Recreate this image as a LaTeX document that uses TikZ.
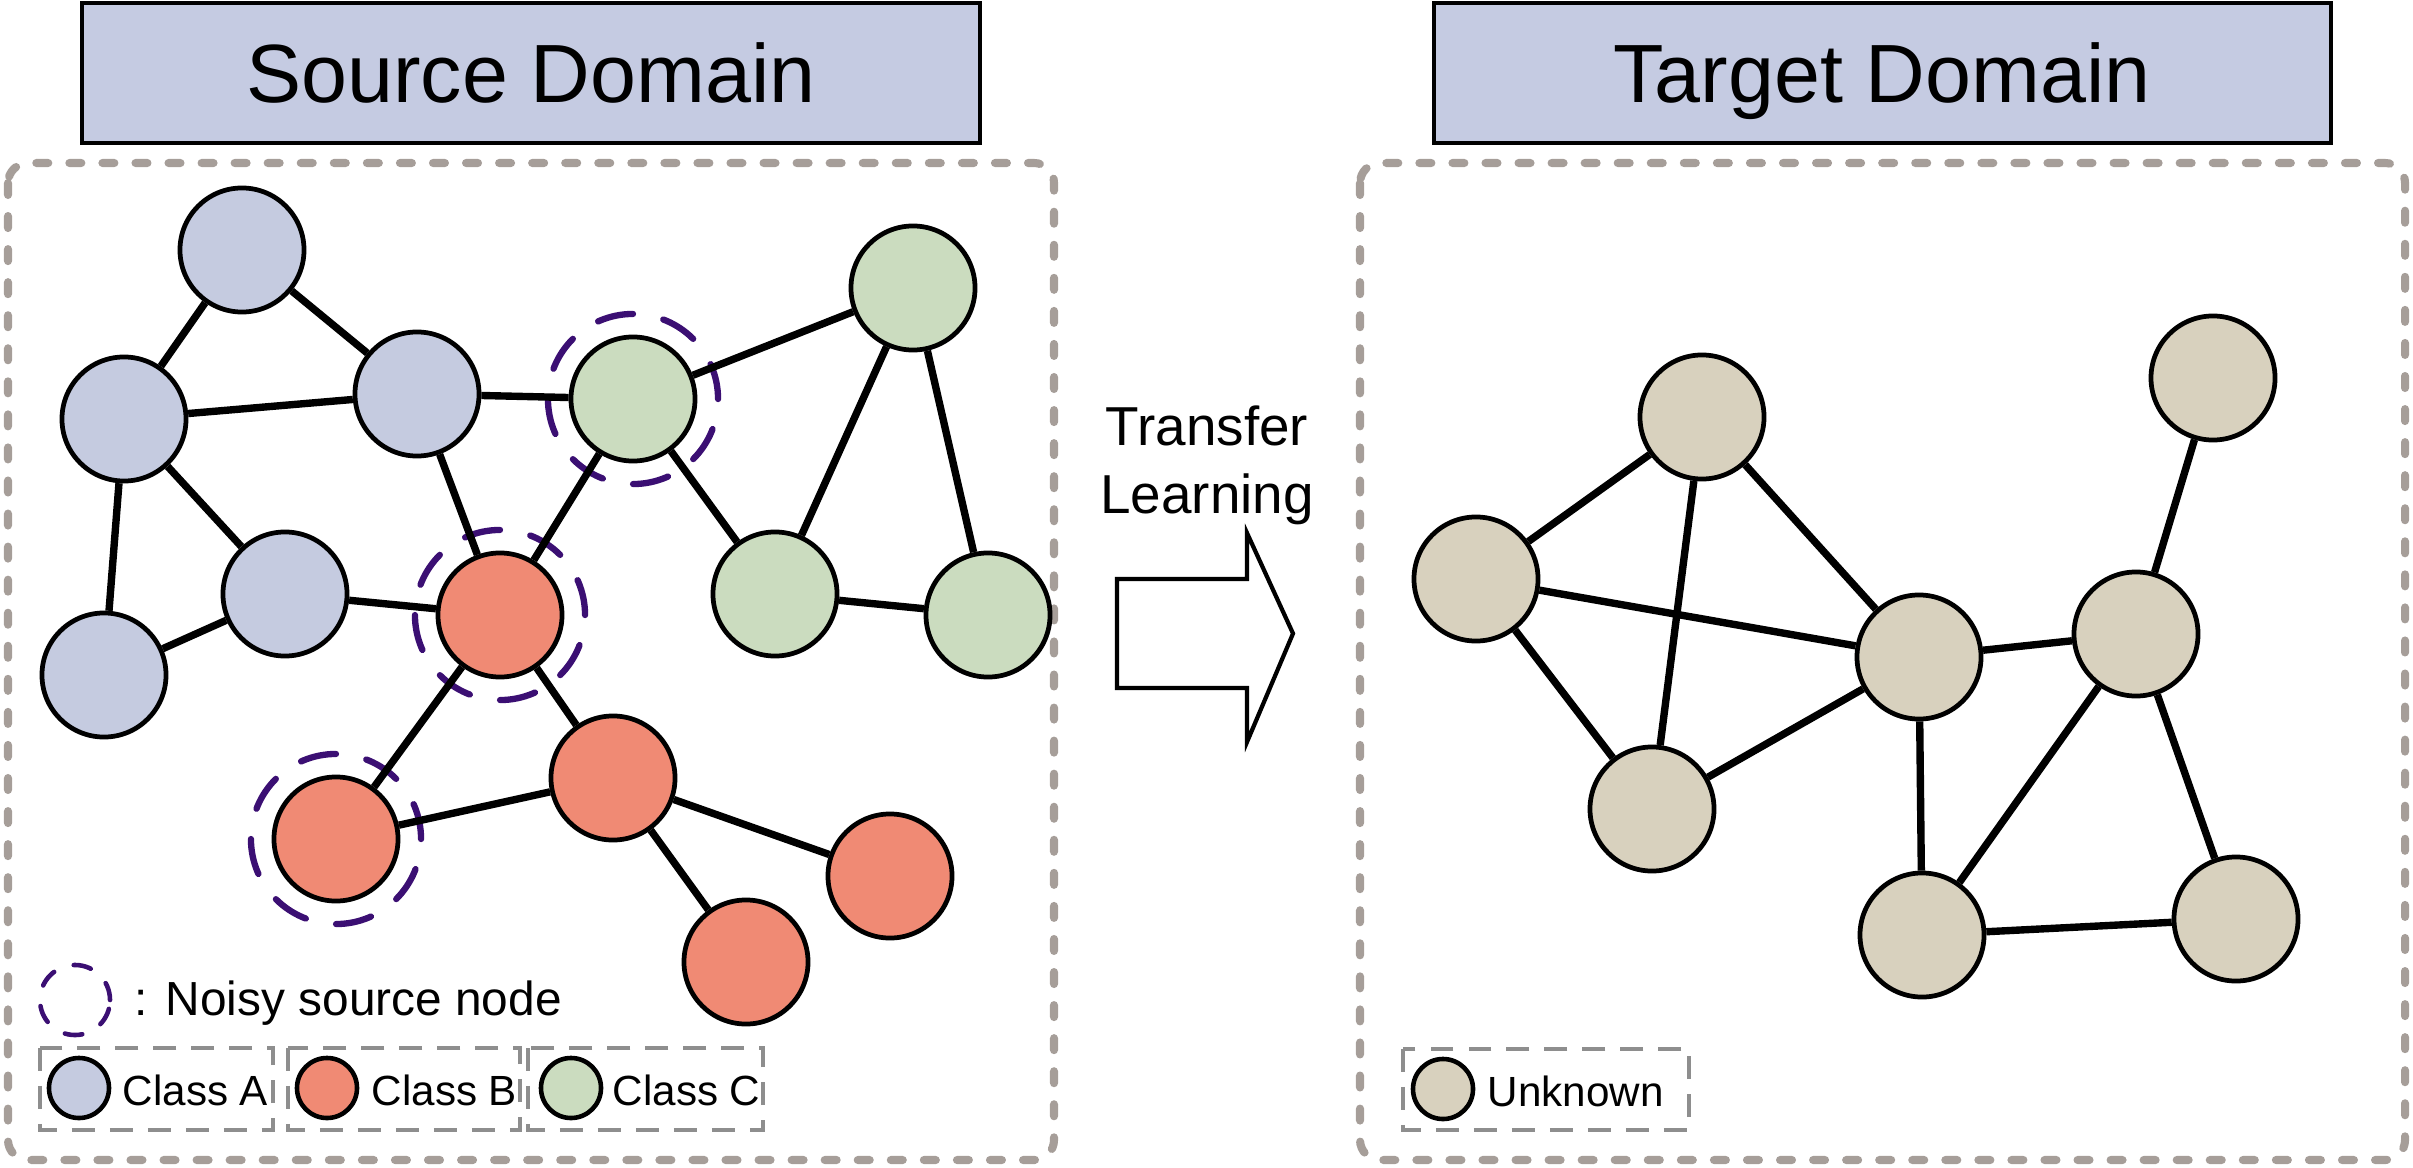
\documentclass[tikz,border=0pt]{standalone}
\usepackage{fontspec}
\setmainfont{Liberation Sans}
\definecolor{clsA}{HTML}{C5CBE0}
\definecolor{clsB}{HTML}{F08A74}
\definecolor{clsC}{HTML}{CBDCBF}
\definecolor{unk}{HTML}{D8D1BE}
\definecolor{noisycol}{HTML}{3B0F73}
\definecolor{hdr}{HTML}{C5CBE2}
\definecolor{boxgray}{HTML}{A69E99}
\definecolor{leggray}{HTML}{8E8E8E}
\tikzset{
  gnode/.style={circle, draw=black, line width=1.35pt, minimum size=1.24cm, inner sep=0pt},
  nA/.style={gnode, fill=clsA},
  nB/.style={gnode, fill=clsB},
  nC/.style={gnode, fill=clsC},
  nU/.style={gnode, fill=unk},
  lnode/.style={circle, draw=black, line width=1.3pt, minimum size=0.6cm, inner sep=0pt},
  edge/.style={line width=2.1pt},
  noisyring/.style={circle, draw=noisycol, line width=1.8pt, dash pattern=on 10.2pt off 8.8pt, line cap=round, minimum size=1.7cm, inner sep=0pt},
  noisylegend/.style={circle, draw=noisycol, line width=1.3pt, dash pattern=on 5pt off 6pt, line cap=round, minimum size=0.7cm, inner sep=0pt},
  bigbox/.style={draw=boxgray, line width=2.3pt, line cap=round, dash pattern=on 3.4pt off 6pt, rounded corners=0.2cm},
  legbox/.style={draw=leggray, line width=1pt, dash pattern=on 6.5pt off 4.3pt},
  header/.style={draw=black, line width=1.3pt, fill=hdr},
  titletext/.style={anchor=base, inner sep=0pt, font=\fontsize{23.5pt}{28pt}\selectfont},
  tltext/.style={anchor=base, inner sep=0pt, font=\fontsize{15.6pt}{19pt}\selectfont},
  noisytext/.style={anchor=base west, inner sep=0pt, font=\fontsize{13.6pt}{16pt}\selectfont},
  classtext/.style={anchor=base west, inner sep=0pt, font=\fontsize{12pt}{14pt}\selectfont},
}
\begin{document}
\begin{tikzpicture}[x=0.01cm, y=-0.01cm]
\useasboundingbox (0,0) rectangle (2413,1167);

% headers
\draw[header] (82,3) rectangle (980,143);
\node[titletext] (srctitle) at (531,103) {Source Domain};
\draw[header] (1434,3) rectangle (2331,143);
\node[titletext] (tgttitle) at (1882,103) {Target Domain};

% domain boxes
\draw[bigbox] (8,163) rectangle (1054,1160);
\draw[bigbox] (1360,163) rectangle (2405,1160);

% noisy rings
\node[noisyring] (rC1) at (633,399) {};
\node[noisyring] (rB1) at (500,615) {};
\node[noisyring] (rB3) at (336,839) {};

% source nodes
\node[nA] (A1) at (242,250) {};
\node[nA] (A2) at (124,419) {};
\node[nA] (A3) at (417,394) {};
\node[nA] (A4) at (285,594) {};
\node[nA] (A5) at (104,675) {};
\node[nB] (B1) at (500,615) {};
\node[nB] (B2) at (613,778) {};
\node[nB] (B3) at (336,839) {};
\node[nB] (B4) at (890,876) {};
\node[nB] (B5) at (746,962) {};
\node[nC] (C1) at (633,399) {};
\node[nC] (C2) at (913,288) {};
\node[nC] (C3) at (775,594) {};
\node[nC] (C4) at (988,615) {};

% source edges
\draw[edge] (A1) -- (A2);
\draw[edge] (A1) -- (A3);
\draw[edge] (A2) -- (A3);
\draw[edge] (A2) -- (A4);
\draw[edge] (A2) -- (A5);
\draw[edge] (A4) -- (A5);
\draw[edge] (A3) -- (C1);
\draw[edge] (A3) -- (B1);
\draw[edge] (A4) -- (B1);
\draw[edge] (C1) -- (B1);
\draw[edge] (C1) -- (C2);
\draw[edge] (C1) -- (C3);
\draw[edge] (C2) -- (C3);
\draw[edge] (C2) -- (C4);
\draw[edge] (C3) -- (C4);
\draw[edge] (B1) -- (B3);
\draw[edge] (B1) -- (B2);
\draw[edge] (B3) -- (B2);
\draw[edge] (B2) -- (B4);
\draw[edge] (B2) -- (B5);

% source legend
\node[noisylegend] (lnoisy) at (75,1000) {};
\node[noisytext] (lnoisytext) at (134,1015) {: Noisy source node};
\draw[legbox] (40,1048) rectangle (273,1130);
\draw[legbox] (288,1048) rectangle (520,1130);
\draw[legbox] (528,1048) rectangle (763,1130);
\node[lnode, fill=clsA] (lA) at (79,1088) {};
\node[classtext] (lAt) at (122,1105) {Class A};
\node[lnode, fill=clsB] (lB) at (327,1088) {};
\node[classtext] (lBt) at (371,1105) {Class B};
\node[lnode, fill=clsC] (lC) at (571,1088) {};
\node[classtext] (lCt) at (612,1105) {Class C};

% transfer arrow
\node[tltext] (tl1) at (1207,445) {Transfer};
\node[tltext] (tl2) at (1207,513) {Learning};
\draw[line width=1.2pt, line join=miter, fill=white]
  (1117,579) -- (1247,579) -- (1247,533) -- (1293,633.5) -- (1247,742) -- (1247,688) -- (1117,688) -- cycle;

% target nodes
\node[nU] (T1) at (1476,579) {};
\node[nU] (T2) at (1702,417) {};
\node[nU] (T3) at (2213,378) {};
\node[nU] (T4) at (1652,809) {};
\node[nU] (T5) at (1919,657) {};
\node[nU] (T6) at (2136,634) {};
\node[nU] (T7) at (1922,935) {};
\node[nU] (T8) at (2236,919) {};

% target edges
\draw[edge] (T1) -- (T2);
\draw[edge] (T1) -- (T5);
\draw[edge] (T1) -- (T4);
\draw[edge] (T2) -- (T4);
\draw[edge] (T2) -- (T5);
\draw[edge] (T4) -- (T5);
\draw[edge] (T5) -- (T6);
\draw[edge] (T3) -- (T6);
\draw[edge] (T5) -- (T7);
\draw[edge] (T6) -- (T7);
\draw[edge] (T6) -- (T8);
\draw[edge] (T7) -- (T8);

% target legend
\draw[legbox] (1403,1049) rectangle (1689,1130);
\node[lnode, fill=unk] (lU) at (1443,1089) {};
\node[classtext] (lUt) at (1487,1106) {Unknown};
\end{tikzpicture}
\end{document}
